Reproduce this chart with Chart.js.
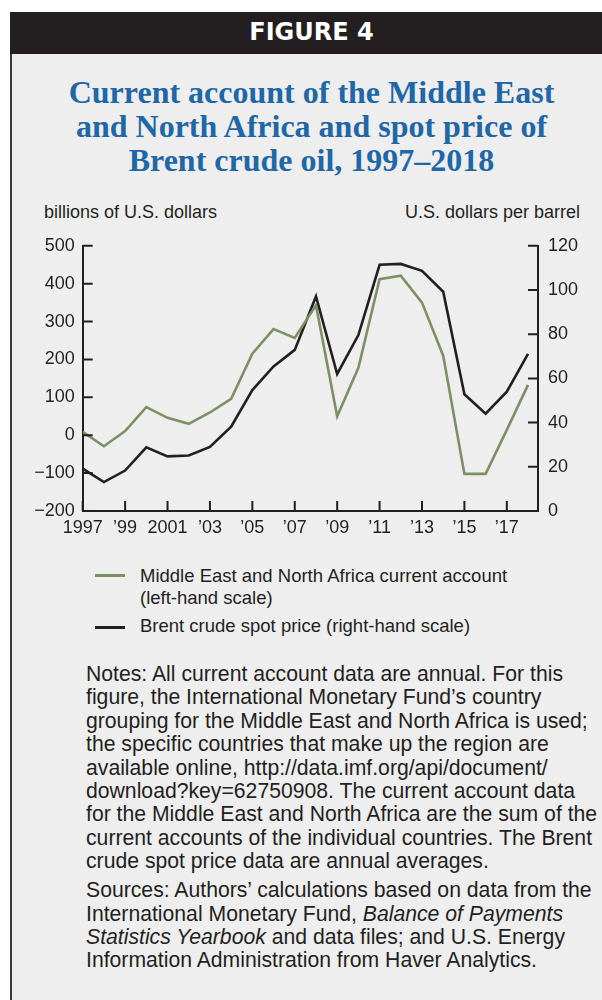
<!DOCTYPE html>
<html>
<head>
<meta charset="utf-8">
<script src="https://cdn.jsdelivr.net/npm/chart.js@4/dist/chart.umd.min.js"></script>
<style>
  html, body { margin: 0; padding: 0; background: #fff; width: 602px; height: 1000px; overflow: hidden; }
  body { position: relative; font-family: "Liberation Sans", Arial, sans-serif; color: #231f20; }
  #panel { position: absolute; left: 10px; top: 12px; width: 592px; height: 1000px; background: #eeeeee; border-left: 2.5px solid #3c3a3a; box-sizing: border-box; }
  #header { position: absolute; left: 10px; top: 12px; width: 592px; height: 42px; background: #231f20; color: #fff; box-sizing: border-box; padding-left: 11px;
    font-family: "DejaVu Sans", sans-serif; font-weight: bold; font-size: 24px; text-align: center; line-height: 41px; }
  #title { position: absolute; left: 10px; width: 592px; top: 75px; box-sizing: border-box; padding-left: 11px; text-align: center; color: #1f67a7;
    font-family: "Liberation Serif", "Times New Roman", serif; font-weight: bold; font-size: 32px; line-height: 34px; }
  .axtitle { position: absolute; top: 202px; font-size: 18px; white-space: nowrap; }
  #chartBox { position: absolute; left: 10px; top: 225px; width: 592px; height: 325px; }
  .leg { position: absolute; left: 140px; font-size: 18.5px; line-height: 22px; white-space: nowrap; }
  .sample { position: absolute; left: 95px; width: 30px; }
  #notes { position: absolute; left: 86px; top: 662px; font-size: 21.2px; line-height: 23.4px; white-space: nowrap; }
  #notes p { margin: 0 0 5.5px 0; }
</style>
</head>
<body>
<div id="panel"></div>
<div id="header">FIGURE 4</div>
<div id="title">Current account of the Middle East<br>and North Africa and spot price of<br>Brent crude oil, 1997–2018</div>
<div class="axtitle" style="left:44px">billions of U.S. dollars</div>
<div class="axtitle" style="right:22px">U.S. dollars per barrel</div>
<div id="chartBox"><canvas id="chart"></canvas></div>

<div class="sample" style="top:574px;height:2.5px;background:#7b9165"></div>
<div class="leg" style="top:565px">Middle East and North Africa current account<br>(left-hand scale)</div>
<div class="sample" style="top:626px;height:3px;background:#231f20"></div>
<div class="leg" style="top:615px">Brent crude spot price (right-hand scale)</div>

<div id="notes">
<p>Notes: All current account data are annual. For this<br>figure, the International Monetary Fund’s country<br>grouping for the Middle East and North Africa is used;<br>the specific countries that make up the region are<br>available online, http://data.imf.org/api/document/<br>download?key=62750908. The current account data<br>for the Middle East and North Africa are the sum of the<br>current accounts of the individual countries. The Brent<br>crude spot price data are annual averages.</p>
<p>Sources: Authors’ calculations based on data from the<br>International Monetary Fund, <i>Balance of Payments<br>Statistics Yearbook</i> and data files; and U.S. Energy<br>Information Administration from Haver Analytics.</p>
</div>

<script>
const years = [1997, 1998, 1999, 2000, 2001, 2002, 2003, 2004, 2005, 2006, 2007,
  2008, 2009, 2010, 2011, 2012, 2013, 2014, 2015, 2016, 2017, 2018];
// billions of U.S. dollars, left scale
const currentAccount = [9, -29, 11, 74, 46, 30, 60, 96, 215, 280, 257,
  343, 50, 178, 412, 421, 350, 210, -102, -102, 14, 133];
// dollars per barrel, right scale
const brentPrice = [19.2, 13.1, 18.3, 28.8, 24.7, 25.1, 29.0, 38.2, 54.7, 65.4, 72.9,
  97.1, 62.0, 79.6, 111.4, 111.8, 108.7, 99.2, 52.8, 44.0, 54.0, 71.1];
const xTicks = [1997, 1999, 2001, 2003, 2005, 2007, 2009, 2011, 2013, 2015, 2017];
const leftTicks = [-200, -100, 0, 100, 200, 300, 400, 500];
const rightTicks = [0, 20, 40, 60, 80, 100, 120];

const ink = '#231f20';
const font = { family: '"Liberation Sans", Arial, sans-serif', size: 18 };

function yearLabel(v) {
  if (v === 1997 || v === 2001) return String(v);
  return '\u2019' + String(v).slice(2);
}

// tick marks point into the plot
const innerTicks = {
  id: 'innerTicks',
  afterDraw(chart) {
    const { ctx, chartArea: a, scales } = chart;
    const len = 10;
    ctx.save();
    ctx.strokeStyle = ink;
    ctx.lineWidth = 2;
    ctx.beginPath();
    scales.x.ticks.forEach(t => {
      const px = scales.x.getPixelForValue(t.value);
      ctx.moveTo(px, a.bottom); ctx.lineTo(px, a.bottom - len);
    });
    scales.yL.ticks.forEach(t => {
      const py = scales.yL.getPixelForValue(t.value);
      ctx.moveTo(a.left, py); ctx.lineTo(a.left + len, py);
    });
    scales.yR.ticks.forEach(t => {
      const py = scales.yR.getPixelForValue(t.value);
      ctx.moveTo(a.right, py); ctx.lineTo(a.right - len, py);
    });
    ctx.stroke();
    ctx.restore();
  }
};

const axisCommon = {
  grid: { drawOnChartArea: false, drawTicks: false },
  border: { color: ink, width: 2 },
};

new Chart(document.getElementById('chart').getContext('2d'), {
  type: 'line',
  data: {
    datasets: [
      {
        label: 'Middle East and North Africa current account (left-hand scale)',
        data: years.map((y, i) => ({ x: y, y: currentAccount[i] })),
        yAxisID: 'yL',
        borderColor: '#7b9165',
        borderWidth: 2.6,
        pointRadius: 0,
        tension: 0,
      },
      {
        label: 'Brent crude spot price (right-hand scale)',
        data: years.map((y, i) => ({ x: y, y: brentPrice[i] })),
        yAxisID: 'yR',
        borderColor: ink,
        borderWidth: 2.6,
        pointRadius: 0,
        tension: 0,
      },
    ],
  },
  options: {
    responsive: true,
    maintainAspectRatio: false,
    animation: false,
    layout: { padding: { top: 17.7, bottom: 0, left: 0, right: 0 } },
    plugins: { legend: { display: false }, tooltip: { enabled: false } },
    scales: {
      x: {
        ...axisCommon,
        type: 'linear',
        min: 1997,
        max: 2018.47,
        afterBuildTicks: s => { s.ticks = xTicks.map(v => ({ value: v })); },
        afterFit: s => { s.height = 39; },
        ticks: { color: ink, font, padding: 6, maxRotation: 0, autoSkip: false, callback: v => yearLabel(v) },
      },
      yL: {
        ...axisCommon,
        position: 'left',
        min: -200,
        max: 500,
        afterBuildTicks: s => { s.ticks = leftTicks.map(v => ({ value: v })); },
        afterFit: s => { s.width = 72.7; },
        ticks: { color: ink, font, padding: 8, callback: v => (v < 0 ? '\u2212' + Math.abs(v) : String(v)) },
      },
      yR: {
        ...axisCommon,
        position: 'right',
        min: 0,
        max: 120,
        afterBuildTicks: s => { s.ticks = rightTicks.map(v => ({ value: v })); },
        afterFit: s => { s.width = 64; },
        ticks: { color: ink, font, padding: 10 },
      },
    },
  },
  plugins: [innerTicks],
});
</script>
</body>
</html>
